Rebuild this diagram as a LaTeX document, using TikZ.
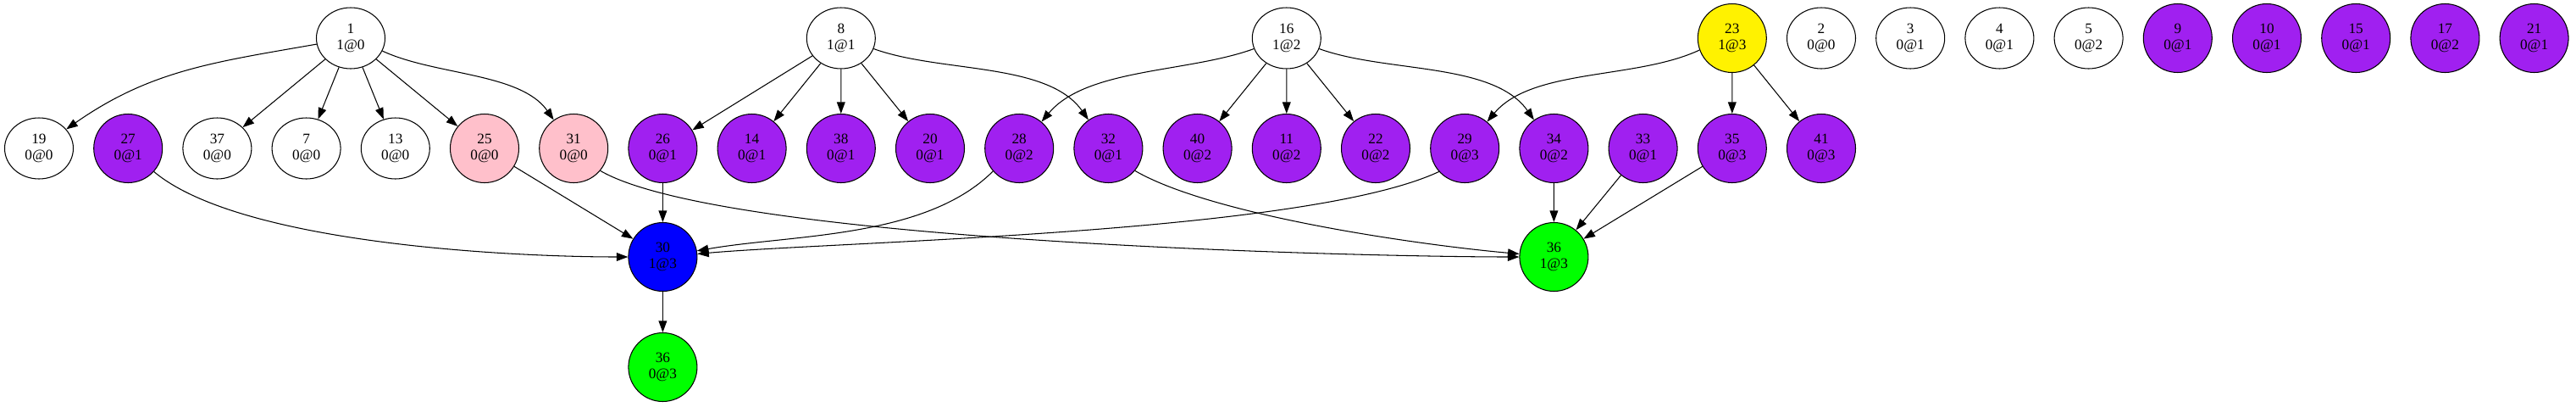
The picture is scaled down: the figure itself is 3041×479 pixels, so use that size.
\documentclass[tikz,border=0pt]{standalone}
\usepackage{fontspec}
\setmainfont{Liberation Serif}
\usetikzlibrary{shapes.geometric,arrows.meta}
\definecolor{purp}{HTML}{A020F0}
\definecolor{pinkfill}{HTML}{FFC0CB}
\tikzset{lbl/.style={align=center, inner sep=0pt, font=\fontsize{11.5}{13.1}\selectfont},
whitenode/.style={lbl, ellipse, draw=black, fill=white, minimum width=54pt, minimum height=48pt},
%filled nodes are round, purple by default
colnode/.style={lbl, circle, draw=black, fill=#1, minimum size=54pt},
colnode/.default={purp}}

\begin{document}
\begin{tikzpicture}[x=0.6667pt,y=-0.6667pt,line width=0.7pt,>={Triangle[length=9pt,width=6.5pt]}]
\useasboundingbox (0,0) rectangle (3041,479);

% top row
\node[whitenode] (n1) at (414,45) {1\\1@0};
\node[whitenode] (n8) at (992.8,45) {8\\1@1};
\node[whitenode] (n16) at (1518.8,45) {16\\1@2};
\node[colnode=yellow] (n23) at (2044.8,45) {23\\1@3};
\foreach \i/\nm/\lab in {20/2/0@0,21/3/0@1,22/4/0@1,23/5/0@2}
     \node[whitenode] (n\nm) at ({46+105.2*\i},45) {\nm\\\lab};
\foreach \i/\nm/\lab in {24/9/0@1,25/10/0@1,26/15/0@1,27/17/0@2,28/21/0@1}
     \node[colnode] (n\nm) at ({46+105.2*\i},45) {\nm\\\lab};

% second row
\foreach \i/\nm in {0/19,2/37,3/7,4/13}
     \node[whitenode] (n\nm) at ({46+105.2*\i},175) {\nm\\0@0};
\foreach \i/\nm in {5/25,6/31}
     \node[colnode=pinkfill] (n\nm) at ({46+105.2*\i},175) {\nm\\0@0};
\foreach \i/\nm/\lab in {1/27/0@1,7/26/0@1,8/14/0@1,9/38/0@1,10/20/0@1,11/28/0@2,12/32/0@1,13/40/0@2,14/11/0@2,15/22/0@2,16/29/0@3,17/34/0@2,18/33/0@1,19/35/0@3,20/41/0@3}
     \node[colnode] (n\nm) at ({46+105.2*\i},175) {\nm\\\lab};

% lower nodes
\node[colnode=blue] (n30) at (782.4,303) {30\\1@3};
\node[colnode=green] (n36r) at (1834.4,303) {36\\1@3};
\node[colnode=green] (n36b) at (782.4,433) {36\\0@3};

% edges
\foreach \a/\b in {1/37,1/7,1/13,1/25,8/26,8/14,8/38,8/20,16/40,16/11,16/22,23/35,23/41,25/30,26/30,34/36r,33/36r,35/36r,30/36b}
     \draw[->] (n\a) -- (n\b);

\draw[->] (n1) to[out=190,in=35] (n19);
\draw[->] (n1.-22) to[out=-25,in=125,looseness=0.8] (n31);
\draw[->] (n8.-18) to[out=-20,in=125,looseness=0.8] (n32);
\draw[->] (n16.198) to[out=200,in=50,looseness=0.8] (n28);
\draw[->] (n16.-18) to[out=-20,in=125,looseness=0.8] (n34);
\draw[->] (n23.200) to[out=205,in=50,looseness=0.8] (n29);

\draw[->] (n27.-42) to[out=-40,in=180,looseness=0.6] (n30);
\draw[->] (n31.-40) to[out=-30,in=180,looseness=0.4] (n36r);
\draw[->] (n28.221) to[out=225,in=10,looseness=0.8] (n30);
\draw[->] (n29.222) to[out=205,in=5,looseness=0.5] (n30);
\draw[->] (n32.-40) to[out=-30,in=175,looseness=0.6] (n36r);

\end{tikzpicture}
\end{document}
